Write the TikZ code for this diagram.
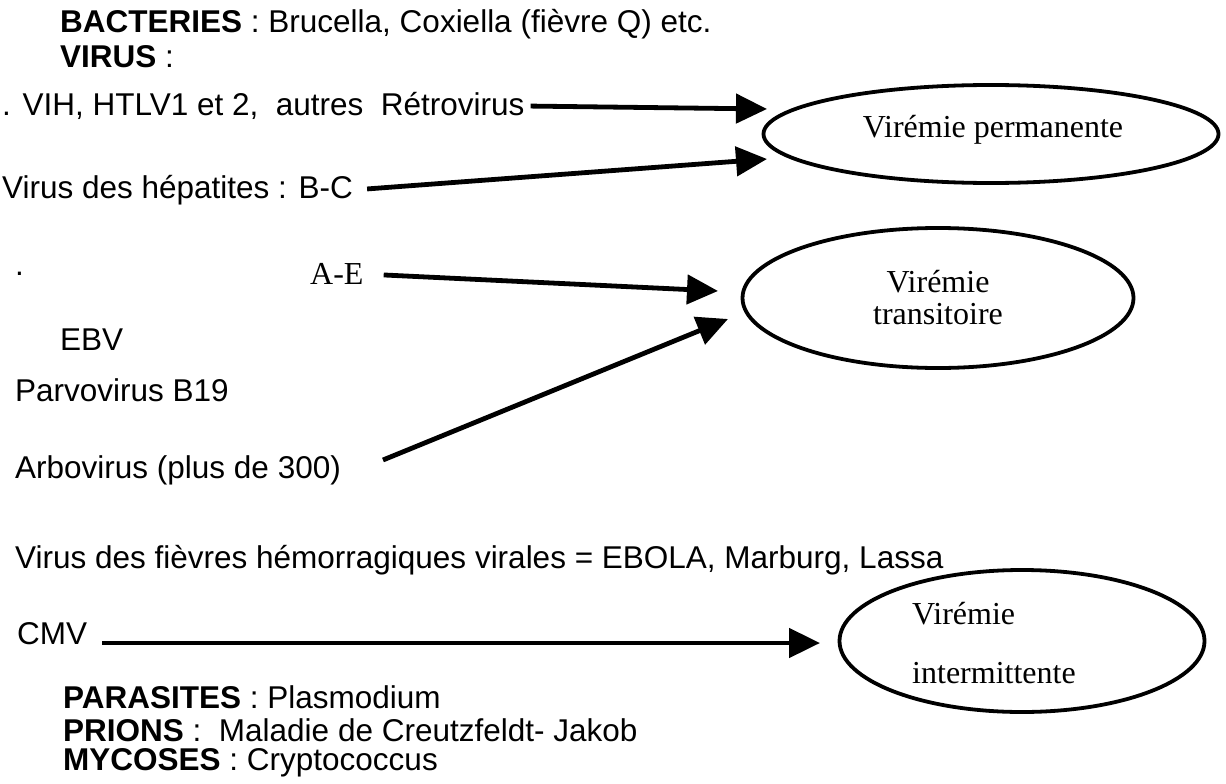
\documentclass[tikz,border=0pt]{standalone}
\usepackage{fontspec}
\setmainfont{Liberation Sans}
\newfontfamily\timesface{Liberation Serif}
\usetikzlibrary{arrows.meta,shapes.geometric}
\begin{document}
\begin{tikzpicture}[x=1pt,y=-1pt,
  txt/.style={anchor=west,inner sep=0pt,font=\fontsize{31.5}{34}\selectfont},
  rm/.style={inner sep=0pt,font=\timesface\fontsize{32}{34}\selectfont},
  bubble/.style={draw,ellipse,line width=3.8pt,inner sep=0pt},
  arr/.style={line width=4.8pt,-{Triangle[length=31pt,width=29pt]}}]
\useasboundingbox (0,0) rectangle (1226,784);

% left-hand list of agents
\node[txt] (bact) at (60,24) {\textbf{BACTERIES} : Brucella, Coxiella (fièvre Q) etc.};
\node[txt] (virus) at (60,57) {\textbf{VIRUS} :};
\node[txt] (vih) at (2,106) {. VIH, HTLV1 et 2,\ \ autres\ \ Rétrovirus};
\node[txt] (hep) at (2,190) {Virus des hépatites : B-C};
\node[txt] (dot) at (15,274) {.};
\node[rm,anchor=west] (ae) at (310,274) {A-E};
\node[txt] (ebv) at (60,340) {EBV};
\node[txt] (parvo) at (15,390) {Parvovirus B19};
\node[txt] (arbo) at (15,470) {Arbovirus (plus de 300)};
\node[txt] (fievre) at (15,560) {Virus des fièvres hémorragiques virales = EBOLA, Marburg, Lassa};
\node[txt] (cmv) at (17,634) {CMV};
\node[txt] (para) at (63,697) {\textbf{PARASITES} : Plasmodium};
\node[txt] (prion) at (63,730) {\textbf{PRIONS} :\ \ Maladie de Creutzfeldt- Jakob};
\node[txt] (myco) at (63,763) {\textbf{MYCOSES} : Cryptococcus};

% outcome ellipses
\node[bubble,minimum width=455pt,minimum height=98pt] (perm) at (991,134) {};
\node[rm] at (993,130) {Virémie permanente};
\node[bubble,minimum width=391pt,minimum height=140pt] (trans) at (938,298) {};
\node[rm] at (938,282) {Virémie};
\node[rm] at (938,314) {transitoire};
\node[bubble,minimum width=365pt,minimum height=142pt] (inter) at (1022,641) {};
\node[rm,anchor=west] at (912,614) {Virémie};
\node[rm,anchor=west] at (912,673) {intermittente};

% arrow end points just short of the ellipses
\coordinate (t1) at (767,109);
\coordinate (t2) at (767,159);
\coordinate (t3) at (718,291);
\coordinate (t4) at (728,319);
\coordinate (t5) at (820,643);
\coordinate (s4) at (383,460);
\coordinate (s5) at (102,643);

\draw[arr,shorten <=6pt] (vih.east) -- (t1);
\draw[arr,shorten <=14pt] (hep.east) -- (t2);
\draw[arr,shorten <=20pt] (ae.east) -- (t3);
\draw[arr] (s4) -- (t4);
\draw[arr] (s5) -- (t5);
\end{tikzpicture}
\end{document}
